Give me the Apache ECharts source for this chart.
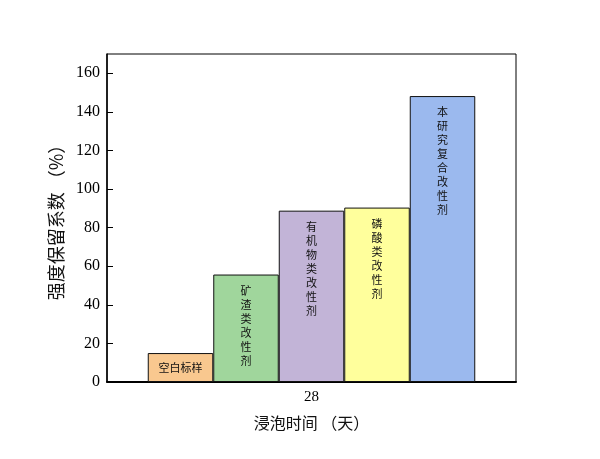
<!DOCTYPE html>
<html>
<head>
<meta charset="utf-8">
<script src="https://cdn.jsdelivr.net/npm/echarts@6/dist/echarts.min.js"></script>
<style>html,body{margin:0;padding:0;background:#fff;}#c{width:600px;height:459px;}</style>
</head>
<body>
<div id="c"></div>
<script>
var categories = ['28'];
var seriesNames = ['空白标样', '矿渣类改性剂', '有机物类改性剂', '磷酸类改性剂', '本研究复合改性剂'];
var seriesValues = [15, 55.7, 88.8, 90.4, 148.2];
var seriesColors = ['#F9C88F', '#A0D69C', '#C2B4D7', '#FFFF9C', '#9BB9EE'];
var yTicks = [0, 20, 40, 60, 80, 100, 120, 140, 160];

var chart = echarts.init(document.getElementById('c'));
var series = seriesNames.map(function (name, i) {
  var vertical = i > 0;
  return {
    name: name,
    type: 'bar',
    barWidth: 65.5,
    barGap: '0%',
    data: [seriesValues[i]],
    itemStyle: { color: seriesColors[i], borderColor: '#111', borderWidth: 1 },
    label: {
      show: true,
      position: vertical ? 'insideTop' : 'inside',
      distance: vertical ? 9 : 0,
      formatter: vertical ? name.split('').join('\n') : name,
      fontFamily: 'Noto Sans CJK SC',
      fontSize: 11,
      lineHeight: 14,
      color: '#111'
    }
  };
});

chart.setOption({
  animation: false,
  backgroundColor: '#fff',
  grid: { left: 107, right: 84, top: 54, bottom: 77, show: true, borderColor: '#000', borderWidth: 1, backgroundColor: 'transparent' },
  xAxis: {
    type: 'category',
    data: categories,
    name: '浸泡时间 （天）',
    nameLocation: 'middle',
    nameGap: 33,
    nameTextStyle: { fontFamily: 'Noto Sans CJK SC', fontSize: 16, color: '#111' },
    axisLine: { lineStyle: { color: '#000', width: 2 } },
    axisTick: { inside: true, alignWithLabel: true, length: 6, lineStyle: { color: '#000' } },
    axisLabel: { fontFamily: 'Liberation Serif', fontSize: 15, color: '#000', margin: 8 }
  },
  yAxis: {
    type: 'value',
    min: 0,
    max: 170,
    interval: 20,
    name: '强度保留系数 （%）',
    nameLocation: 'middle',
    nameGap: 38,
    nameTextStyle: { fontFamily: 'Noto Sans CJK SC', fontSize: 18, color: '#111' },
    axisLine: { show: true, lineStyle: { color: '#000', width: 1.5 } },
    axisTick: { show: true, inside: true, length: 6, customValues: yTicks, lineStyle: { color: '#000' } },
    axisLabel: {
      fontFamily: 'Liberation Serif', fontSize: 16, color: '#000', margin: 7,
      customValues: yTicks
    },
    splitLine: { show: false }
  },
  series: series
});
</script>
</body>
</html>
